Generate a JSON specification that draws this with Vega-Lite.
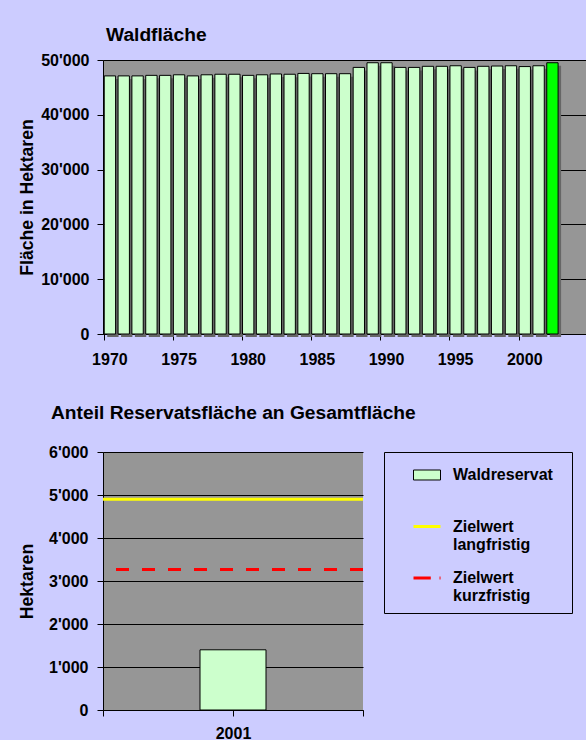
{
  "$schema": "https://vega.github.io/schema/vega-lite/v6.json",
  "background": "#CCCCFF",
  "padding": {"left": 18, "top": 25, "right": 0, "bottom": 0},
  "spacing": 36,
  "resolve": {
    "scale": {"fill": "independent", "stroke": "independent", "shape": "independent"},
    "legend": {"fill": "independent", "stroke": "independent", "shape": "independent"}
  },
  "config": {
    "locale": {"number": {"decimal": ".", "thousands": "'", "grouping": [3], "currency": ["", ""]}},
    "font": "Liberation Sans",
    "view": {"fill": "#969696", "stroke": null},
    "axis": {
      "labelFont": "Liberation Sans", "labelFontSize": 16, "labelFontWeight": "bold", "labelColor": "black",
      "titleFont": "Liberation Sans", "titleFontSize": 17.6, "titleFontWeight": "bold", "titleColor": "black",
      "domainColor": "black", "tickColor": "black", "gridColor": "black", "gridOpacity": 1, "tickSize": 6
    },
    "title": {"font": "Liberation Sans", "fontSize": 19.2, "fontWeight": "bold", "color": "black", "anchor": "start", "frame": "group"},
    "legend": {
      "orient": "right", "offset": 21, "padding": 9, "strokeColor": "black", "fillColor": "#CCCCFF",
      "labelFont": "Liberation Sans", "labelFontSize": 16, "labelFontWeight": "bold", "labelColor": "black",
      "symbolSize": 729, "symbolStrokeWidth": 1, "symbolOffset": 20, "labelOffset": 12, "rowPadding": 11.5,
      "titleOrient": "right", "titlePadding": 10, "titleFontSize": 16
    }
  },
  "vconcat": [
    {
      "width": 484,
      "height": 274,
      "title": {"text": "Waldfläche", "offset": 7, "dx": 3},
      "data": {"values": [
        {"jahr": 1970, "flaeche": 47100},
        {"jahr": 1971, "flaeche": 47100},
        {"jahr": 1972, "flaeche": 47100},
        {"jahr": 1973, "flaeche": 47200},
        {"jahr": 1974, "flaeche": 47200},
        {"jahr": 1975, "flaeche": 47300},
        {"jahr": 1976, "flaeche": 47100},
        {"jahr": 1977, "flaeche": 47300},
        {"jahr": 1978, "flaeche": 47400},
        {"jahr": 1979, "flaeche": 47400},
        {"jahr": 1980, "flaeche": 47200},
        {"jahr": 1981, "flaeche": 47300},
        {"jahr": 1982, "flaeche": 47450},
        {"jahr": 1983, "flaeche": 47400},
        {"jahr": 1984, "flaeche": 47550},
        {"jahr": 1985, "flaeche": 47500},
        {"jahr": 1986, "flaeche": 47500},
        {"jahr": 1987, "flaeche": 47500},
        {"jahr": 1988, "flaeche": 48650},
        {"jahr": 1989, "flaeche": 49500},
        {"jahr": 1990, "flaeche": 49500},
        {"jahr": 1991, "flaeche": 48650},
        {"jahr": 1992, "flaeche": 48650},
        {"jahr": 1993, "flaeche": 48850},
        {"jahr": 1994, "flaeche": 48850},
        {"jahr": 1995, "flaeche": 48950},
        {"jahr": 1996, "flaeche": 48650},
        {"jahr": 1997, "flaeche": 48850},
        {"jahr": 1998, "flaeche": 48900},
        {"jahr": 1999, "flaeche": 48950},
        {"jahr": 2000, "flaeche": 48800},
        {"jahr": 2001, "flaeche": 48950},
        {"jahr": 2002, "flaeche": 49500}
      ]},
      "encoding": {
        "x": {
          "field": "jahr", "type": "ordinal",
          "scale": {"domain": [1970,1971,1972,1973,1974,1975,1976,1977,1978,1979,1980,1981,1982,1983,1984,1985,1986,1987,1988,1989,1990,1991,1992,1993,1994,1995,1996,1997,1998,1999,2000,2001,2002,2003,2004], "paddingInner": 0.18, "paddingOuter": 0.09},
          "axis": {"values": [1970,1975,1980,1985,1990,1995,2000], "bandPosition": 0, "labelOffset": 0, "labelAngle": 0, "labelPadding": 11, "title": null, "grid": false}
        },
        "y": {
          "field": "flaeche", "type": "quantitative",
          "scale": {"domain": [0, 50000], "nice": false},
          "axis": {"values": [0,10000,20000,30000,40000,50000], "format": ",d", "title": "Fläche in Hektaren", "labelPadding": 8, "titlePadding": 4, "grid": true}
        }
      },
      "layer": [
        {"mark": {"type": "bar", "fill": "#666666", "xOffset": 3, "yOffset": 3}},
        {
          "mark": {"type": "bar", "stroke": "black", "strokeWidth": 1},
          "encoding": {"fill": {"condition": {"test": "datum.jahr == 2002", "value": "#00FF00"}, "value": "#CCFFCC"}}
        }
      ]
    },
    {
      "width": 260,
      "height": 258,
      "view": {"fill": "#969696", "stroke": null},
      "title": {"text": "Anteil Reservatsfläche an Gesamtfläche", "offset": 21, "dx": -52},
      "layer": [
        {
          "data": {"values": [{"jahr": 2001, "serie": "Waldreservat", "hektaren": 1400}]},
          "mark": {"type": "bar", "orient": "vertical", "fill": "#CCFFCC", "stroke": "black", "strokeWidth": 1, "width": 66},
          "encoding": {
            "x": {
              "field": "jahr", "type": "quantitative",
              "scale": {"domain": [2000, 2002], "nice": false, "zero": false, "padding": 0},
              "axis": {"values": [2000, 2001, 2002], "labelExpr": "datum.value == 2001 ? '2001' : ''", "labelFlush": false, "labelPadding": 9, "title": null, "grid": false}
            },
            "y": {
              "field": "hektaren", "type": "quantitative",
              "scale": {"domain": [0, 6000], "nice": false},
              "axis": {"values": [0,1000,2000,3000,4000,5000,6000], "format": ",d", "title": "Hektaren", "labelPadding": 9, "titlePadding": 12, "grid": true}
            }
          }
        },
        {
          "data": {"values": [{"serie": "Zielwert langfristig", "hektaren": 4900}]},
          "mark": {"type": "rule", "stroke": "#FFFF00", "strokeWidth": 3},
          "encoding": {"y": {"field": "hektaren", "type": "quantitative"}}
        },
        {
          "data": {"values": [{"serie": "Zielwert kurzfristig", "hektaren": 3270}]},
          "mark": {"type": "rule", "stroke": "#FF0000", "strokeWidth": 3, "strokeDash": [13, 13]},
          "encoding": {"y": {"field": "hektaren", "type": "quantitative"}}
        },
        {
          "data": {"values": [{"serie": "Waldreservat"}, {"serie": "Zielwert langfristig"}, {"serie": "Zielwert kurzfristig"}]},
          "transform": [{"filter": "false"}],
          "mark": {"type": "point", "filled": true, "opacity": 1},
          "encoding": {
            "shape": {
              "field": "serie", "type": "nominal",
              "scale": {"domain": ["Waldreservat", "Zielwert langfristig", "Zielwert kurzfristig"], "range": ["M-1,-0.37H1V0.37H-1Z", "M-1,-0.11H1V0.11H-1Z", "M-1,-0.11H0.28V0.11H-1Z M0.93,-0.11H1V0.11H0.93Z"]},
              "legend": {"title": " ", "labelExpr": "datum.label == 'Waldreservat' ? ['Waldreservat', ''] : split(datum.label, ' ')"}
            },
            "fill": {
              "field": "serie", "type": "nominal",
              "scale": {"domain": ["Waldreservat", "Zielwert langfristig", "Zielwert kurzfristig"], "range": ["#CCFFCC", "#FFFF00", "#FF0000"]},
              "legend": {"title": " ", "labelExpr": "datum.label == 'Waldreservat' ? ['Waldreservat', ''] : split(datum.label, ' ')"}
            },
            "stroke": {
              "field": "serie", "type": "nominal",
              "scale": {"domain": ["Waldreservat", "Zielwert langfristig", "Zielwert kurzfristig"], "range": ["#000000", "transparent", "transparent"]},
              "legend": {"title": " ", "labelExpr": "datum.label == 'Waldreservat' ? ['Waldreservat', ''] : split(datum.label, ' ')"}
            }
          }
        }
      ]
    }
  ]
}
